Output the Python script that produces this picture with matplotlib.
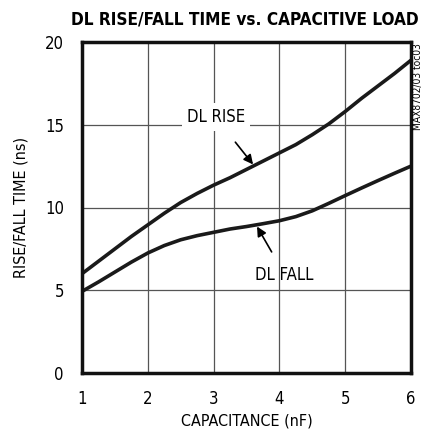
import matplotlib.pyplot as plt
import numpy as np

plt.rcParams['font.family'] = ['DejaVu Sans']
plt.rcParams['font.stretch'] = 'condensed'

cap = [1, 1.25, 1.5, 1.75, 2, 2.25, 2.5, 2.75, 3, 3.25, 3.5, 3.75, 4,
       4.25, 4.5, 4.75, 5, 5.25, 5.5, 5.75, 6]
rise = [6.0, 6.75, 7.5, 8.25, 8.95, 9.65, 10.3, 10.85, 11.35, 11.8, 12.3, 12.8, 13.3,
        13.8, 14.4, 15.05, 15.8, 16.6, 17.35, 18.1, 18.9]
fall = [4.93, 5.5, 6.1, 6.7, 7.25, 7.7, 8.05, 8.3, 8.5, 8.7, 8.85, 9.02, 9.2,
        9.45, 9.8, 10.25, 10.72, 11.18, 11.63, 12.07, 12.5]

fig = plt.figure(figsize=(4.22, 4.33), dpi=100)
ax = fig.add_axes([82/422, 1-373/433, 329/422, 331/433])

ax.plot(cap, rise, color='#1a1a1a', lw=2.6, solid_capstyle='butt', solid_joinstyle='round')
ax.plot(cap, fall, color='#1a1a1a', lw=2.6, solid_capstyle='butt', solid_joinstyle='round')

ax.set_xlim(1, 6)
ax.set_ylim(0, 20)
ax.set_xticks([1, 2, 3, 4, 5, 6])
ax.set_yticks([0, 5, 10, 15, 20])
ax.grid(True, color='#555555', lw=0.9)
ax.tick_params(axis='x', length=0, labelsize=12, pad=12)
ax.tick_params(axis='y', length=0, labelsize=12, pad=13)
for s in ax.spines.values():
    s.set_linewidth(2.5)
    s.set_color('#111111')

ax.set_xlabel('CAPACITANCE (nF)', fontsize=11.5, labelpad=4)
ax.set_ylabel('RISE/FALL TIME (ns)', fontsize=11.5, labelpad=12)
fig.text(245/422, 1-20/433, 'DL RISE/FALL TIME vs. CAPACITIVE LOAD', ha='center', va='center',
         fontsize=12.3, fontweight='bold')

ax.annotate('DL RISE', xy=(3.6, 12.6), xytext=(3.03, 15.45), fontsize=12, ha='center', va='center',
            bbox=dict(boxstyle='square,pad=0.3', fc='white', ec='none'),
            arrowprops=dict(arrowstyle='-|>', color='black', lw=1.2, mutation_scale=14,
                            shrinkA=10, shrinkB=0))
ax.annotate('DL FALL', xy=(3.66, 8.85), xytext=(4.08, 5.95), fontsize=12, ha='center', va='center',
            arrowprops=dict(arrowstyle='-|>', color='black', lw=1.2, mutation_scale=14,
                            shrinkA=9, shrinkB=0))

fig.text(418/422, 1-87/433, 'MAX8702/03 toc03', rotation=90, ha='center', va='center', fontsize=7.3)

fig.savefig('out.png', dpi=100)
